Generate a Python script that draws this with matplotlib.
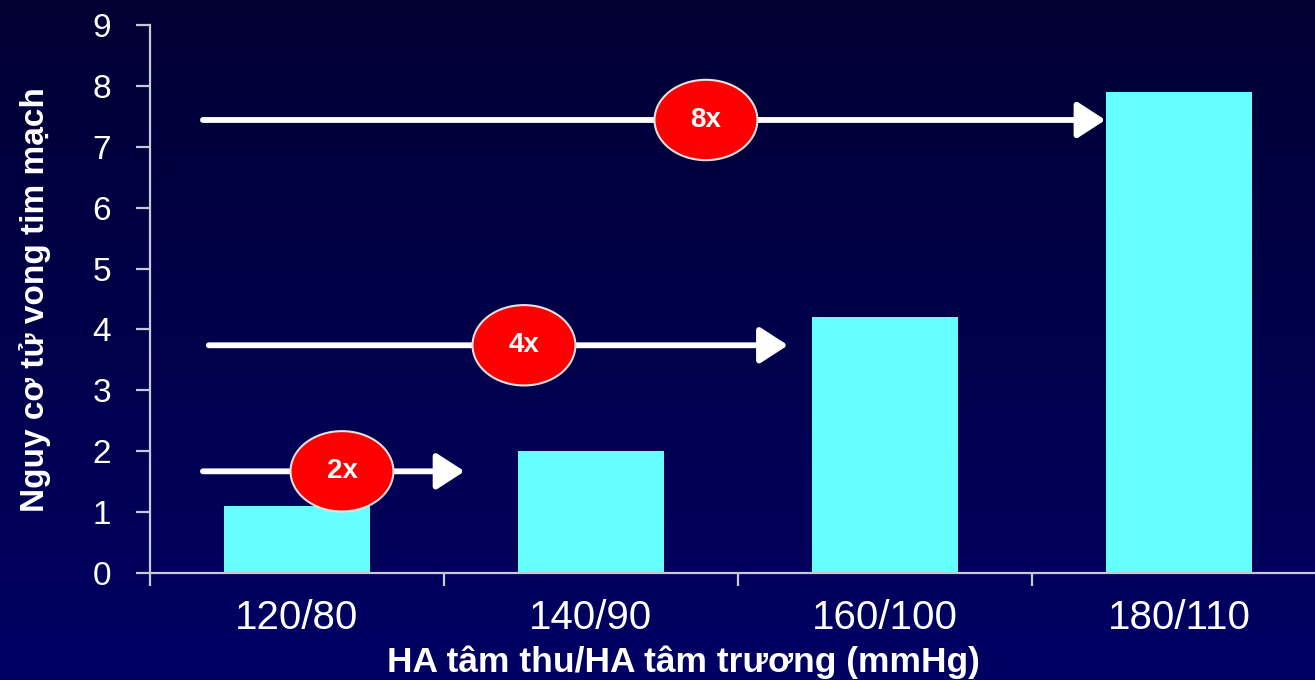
import numpy as np
import matplotlib
matplotlib.use("Agg")
import matplotlib.pyplot as plt
from matplotlib.patches import Ellipse

# ---- data ----
categories = ["120/80", "140/90", "160/100", "180/110"]
risk_values = [1.1, 2.0, 4.2, 7.9]
y_ticks = [0, 1, 2, 3, 4, 5, 6, 7, 8, 9]
arrow_labels = ["2x", "4x", "8x"]
arrow_levels = [1.67, 3.74, 7.44]
arrow_starts = [-0.32, -0.30, -0.32]
arrow_ends = [0.57, 1.67, 2.75]
bubble_x = [0.153, 0.772, 1.391]
xlabel = "HA tâm thu/HA tâm trương (mmHg)"
ylabel = "Nguy cơ tử vong tim mạch"

plt.rcParams['font.family'] = ['Liberation Sans', 'DejaVu Sans']

W, H = 1315, 680
fig = plt.figure(figsize=(W / 100, H / 100), dpi=100)

# gradient background
bg = fig.add_axes([0, 0, 1, 1], zorder=-10)
grad = np.linspace(0, 1, 256)[:, None]
top = np.array([0.0, 0.0, 0.20])
bot = np.array([0.0, 0.0, 0.39])
img = top[None, None, :] * (1 - grad[:, :, None]) + bot[None, None, :] * grad[:, :, None]
bg.imshow(img, aspect='auto', extent=[0, 1, 0, 1])
bg.set_axis_off()

left = 150 / W
right = 1326 / W
bottom = (H - 573) / H
topf = (H - 25) / H
ax = fig.add_axes([left, bottom, right - left, topf - bottom])
ax.patch.set_alpha(0)

x = np.arange(len(categories))
ax.bar(x, risk_values, width=0.497, color='#66ffff', zorder=2)

ax.set_xlim(-0.5, 3.5)
ax.set_ylim(0, 9)

axis_col = '#c8c8d8'
for s in ['top', 'right']:
    ax.spines[s].set_visible(False)
for s in ['left', 'bottom']:
    ax.spines[s].set_color(axis_col)
    ax.spines[s].set_linewidth(1.6)

ax.set_yticks(y_ticks)
ax.set_yticklabels([str(v) for v in y_ticks])
ax.tick_params(axis='y', colors=axis_col, length=10, width=1.6, pad=18,
               labelsize=24, labelcolor='white')

ax.set_xticks([-0.5, 0.5, 1.5, 2.5])
ax.set_xticklabels([])
ax.tick_params(axis='x', which='major', colors=axis_col, length=9, width=1.6)
ax.set_xticks(x, minor=True)
ax.set_xticklabels(categories, minor=True)
ax.tick_params(axis='x', which='minor', length=0, pad=19, labelsize=29,
               labelcolor='white')

# arrows and bubbles
for lab, lvl, xs, xe, bx in zip(arrow_labels, arrow_levels, arrow_starts,
                                 arrow_ends, bubble_x):
    ax.annotate('', xy=(xe, lvl), xytext=(xs, lvl),
                arrowprops=dict(arrowstyle='-|>,head_length=0.85,head_width=0.55',
                                lw=4.2, color='white', shrinkA=0, shrinkB=0,
                                mutation_scale=20),
                zorder=4)
    e = Ellipse((bx, lvl), width=0.35, height=1.32, facecolor='#ff0000',
                edgecolor='#e8e0e0', lw=1.5, zorder=5)
    ax.add_patch(e)
    ax.text(bx, lvl, lab, color='white', fontsize=20, fontweight='bold',
            ha='center', va='center', zorder=6)

fig.text(683 / W, (H - 672) / H, xlabel, color='white', fontsize=25.5,
         fontweight='bold', ha='center', va='baseline')
fig.text(35 / W, (H - 300) / H, ylabel, color='white', fontsize=24,
         fontweight='bold', ha='center', va='center', rotation=90)

fig.savefig('out.png', dpi=100)
